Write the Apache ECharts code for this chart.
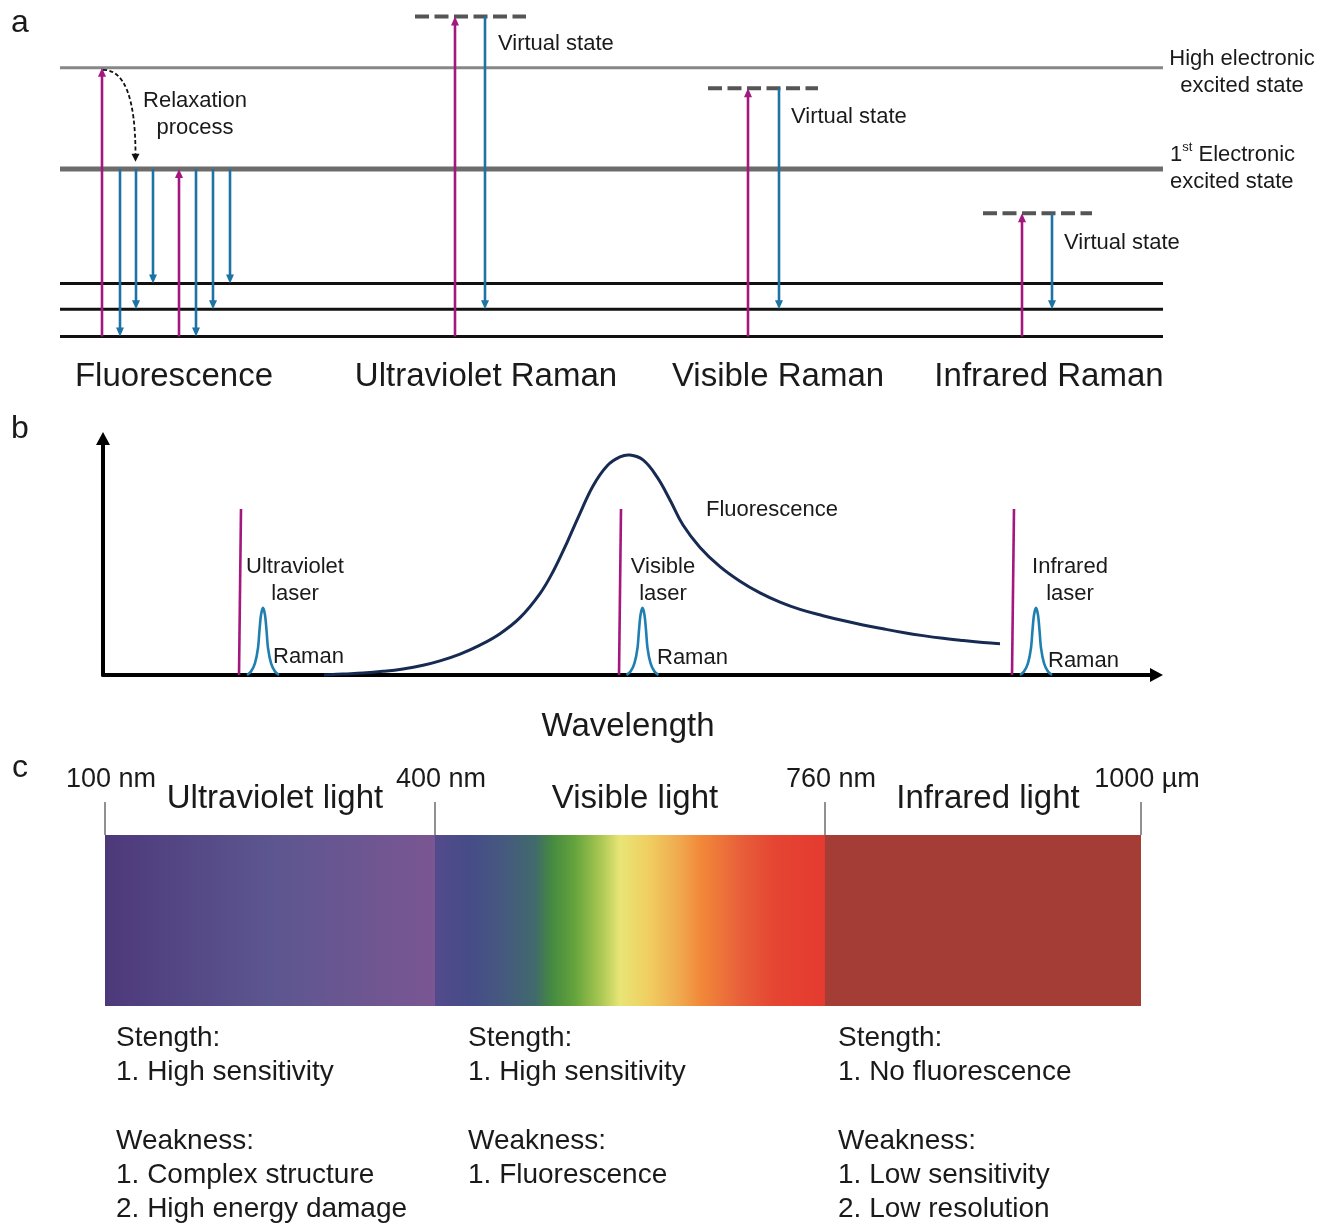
<!DOCTYPE html>
<html>
<head>
<meta charset="utf-8">
<title>Fluorescence and Raman excitation</title>
<script src="https://cdn.jsdelivr.net/npm/echarts@6/dist/echarts.min.js"></script>
<style>
  html, body { margin: 0; padding: 0; background: #ffffff; }
  #chart { width: 1330px; height: 1223px; }
</style>
</head>
<body>
<div id="chart"></div>
<script>
// ---------- a: energy-level diagram (energy in vibrational-quantum units) ----------
const groundLevels = [0, 1.02, 1.99];
const firstExcited = 6.28;
const highExcited = 10.08;
const levelSpan = [0, 110.3];
// virtual states: [xStart, xEnd, energy]
const virtualStates = [[35.5, 46.6, 12.0], [64.8, 75.8, 9.31], [92.3, 103.2, 4.62]];
// absorption (upward) transitions: [x, fromEnergy, toEnergy]
const excitations = [[4.2, 0, 10.08], [11.9, 0, 6.28], [39.5, 0, 12.0], [68.8, 0, 9.31], [96.2, 0, 4.62]];
// emission / scattering (downward) transitions: [x, fromEnergy, toEnergy]
const emissions = [
  [6.0, 6.28, 0], [7.6, 6.28, 1.02], [9.3, 6.28, 1.99],
  [13.6, 6.28, 0], [15.3, 6.28, 1.02], [17.0, 6.28, 1.99],
  [42.5, 12.0, 1.02], [71.9, 9.31, 1.02], [99.2, 4.62, 1.02]
];
// non-radiative relaxation: [xFrom, eFrom, xTo, eTo]
const relaxation = [[4.3, 10.0, 7.55, 6.55]];
const processNames = ['Fluorescence', 'Ultraviolet Raman', 'Visible Raman', 'Infrared Raman'];
const processCenters = [11.4, 42.6, 71.8, 98.9];

// ---------- b: emission spectrum (wavelength vs intensity, arbitrary units) ----------
const fluorescenceCurve = [
  [22.1, 0], [24.0, 0.4], [26.0, 0.8], [28.0, 1.5], [30.0, 2.5], [32.0, 4.0], [33.7, 5.8],
  [35.7, 8.6], [37.7, 12.3], [39.7, 17.0], [41.7, 23.6], [43.7, 33.5], [45.0, 42.5],
  [46.4, 54.5], [47.7, 66.5], [49.0, 77.8], [50.4, 86.0], [51.7, 89.7], [52.7, 90.5],
  [54.0, 88.5], [55.4, 81.5], [56.7, 72.0], [58.0, 61.7], [59.7, 52.5], [61.7, 44.6],
  [63.7, 38.6], [65.7, 33.8], [67.7, 30.0], [69.7, 27.0], [72.0, 24.4], [74.0, 22.4],
  [76.0, 20.6], [78.0, 19.0], [80.0, 17.5], [82.0, 16.2], [84.0, 15.1], [86.0, 14.2],
  [88.0, 13.4], [89.7, 12.9]
];
// laser lines: [xBottom, 0, xTop, intensity]
const laserLines = [[13.6, 0, 13.8, 68.3], [51.6, 0, 51.8, 68.3], [90.9, 0, 91.1, 68.3]];
const ramanUV = [
  [14.4, 0], [14.8, 1.4], [15.2, 4.9], [15.5, 11.1], [15.65, 18.5], [15.8, 24.7], [16.0, 27.6],
  [16.2, 24.7], [16.35, 18.5], [16.5, 11.1], [16.8, 4.9], [17.2, 1.4], [17.6, 0]
];
const ramanVisible = [
  [52.35, 0], [52.75, 1.4], [53.15, 4.9], [53.45, 11.1], [53.6, 18.5], [53.75, 24.7], [53.95, 27.6],
  [54.15, 24.7], [54.3, 18.5], [54.45, 11.1], [54.75, 4.9], [55.15, 1.4], [55.55, 0]
];
const ramanIR = [
  [91.7, 0], [92.1, 1.4], [92.5, 4.9], [92.8, 11.1], [92.95, 18.5], [93.1, 24.7], [93.3, 27.6],
  [93.5, 24.7], [93.65, 18.5], [93.8, 11.1], [94.1, 4.9], [94.5, 1.4], [94.9, 0]
];
const laserNames = ['Ultraviolet\nlaser', 'Visible\nlaser', 'Infrared\nlaser'];

// ---------- c: spectral bands ----------
const bandEdges = [0, 33.0, 72.0, 103.6];
const edgeLabels = ['100 nm', '400 nm', '760 nm', '1000 µm'];
const bandNames = ['Ultraviolet light', 'Visible light', 'Infrared light'];
const strengths = [['1. High sensitivity'], ['1. High sensitivity'], ['1. No fluorescence']];
const weaknesses = [
  ['1. Complex structure', '2. High energy damage'],
  ['1. Fluorescence'],
  ['1. Low sensitivity', '2. Low resolution']
];

// ---------- styles ----------
const FONT = "'Liberation Sans', Arial, Helvetica, sans-serif";
const INK = '#1a1a1a';
const MAGENTA = '#a3177f';
const BLUE = '#1d73a4';
const RAMAN_BLUE = '#1f7fb0';
const NAVY = '#172a52';

const bandGradients = [
  [[0, '#4d397a'], [0.5, '#5c5690'], [1, '#7a5692']],
  [[0, '#534a8c'], [0.09, '#464c88'], [0.18, '#455a7e'], [0.256, '#416a6c'], [0.30, '#458a40'],
   [0.36, '#66a43c'], [0.423, '#a8c652'], [0.474, '#e8e575'], [0.551, '#f0cd60'], [0.628, '#f0a84e'],
   [0.679, '#f28a3a'], [0.782, '#e8603a'], [0.87, '#e54532'], [1, '#e53a30']],
  [[0, '#a33d35'], [1, '#a33d35']]
];

// ---------- series helpers ----------
function segmentSeries(g, data, style, z) {
  return {
    type: 'custom', xAxisIndex: g, yAxisIndex: g, silent: true, data: data, z: z || 2,
    renderItem: function (params, api) {
      const a = api.coord([api.value(0), api.value(1)]);
      const b = api.coord([api.value(2), api.value(3)]);
      return {
        type: 'line',
        shape: { x1: a[0], y1: a[1], x2: b[0], y2: b[1] },
        style: Object.assign({ fill: null, lineCap: 'butt' }, style)
      };
    }
  };
}

function arrowSeries(g, data, color, width, headW, headL) {
  return {
    type: 'custom', xAxisIndex: g, yAxisIndex: g, silent: true, data: data, z: 4,
    renderItem: function (params, api) {
      const x = api.value(0);
      const a = api.coord([x, api.value(1)]);
      const b = api.coord([x, api.value(2)]);
      const dir = b[1] > a[1] ? 1 : -1;
      const baseY = b[1] - dir * headL;
      return {
        type: 'group',
        children: [
          { type: 'line', shape: { x1: a[0], y1: a[1], x2: b[0], y2: baseY + dir * 1 },
            style: { stroke: color, lineWidth: width, fill: null } },
          { type: 'polygon', shape: { points: [[b[0], b[1]], [b[0] - headW / 2, baseY], [b[0] + headW / 2, baseY]] },
            style: { fill: color } }
        ]
      };
    }
  };
}

function textSeries(g, items) {
  return {
    type: 'custom', xAxisIndex: g, yAxisIndex: g, silent: true, z: 10,
    data: items.map(function (t) { return t.at; }),
    renderItem: function (params, api) {
      const t = items[params.dataIndex];
      const p = api.coord([api.value(0), api.value(1)]);
      return {
        type: 'text', x: p[0], y: p[1],
        style: Object.assign({
          text: t.text, fill: INK, fontFamily: FONT, fontSize: 22,
          align: t.align || 'center', verticalAlign: t.vAlign || 'middle'
        }, t.style || {})
      };
    }
  };
}

// smooth spectral trace: one polyline through all points, mapped by the grid's axes
function curveSeries(data, color, width, smooth) {
  return {
    type: 'custom', xAxisIndex: 1, yAxisIndex: 1, silent: true, data: data, z: 3,
    renderItem: function (params, api) {
      if (params.dataIndex !== 0) return null;
      const pts = data.map(function (p) { return api.coord(p); });
      return {
        type: 'polyline',
        shape: { points: pts, smooth: smooth },
        style: { stroke: color, lineWidth: width, fill: null, lineJoin: 'round' }
      };
    }
  };
}

// ---------- assemble ----------
const series = [];

// a: levels
series.push(segmentSeries(0, groundLevels.map(function (e) { return [levelSpan[0], e, levelSpan[1], e]; }),
  { stroke: '#111111', lineWidth: 3 }));
series.push(segmentSeries(0, [[levelSpan[0], firstExcited, levelSpan[1], firstExcited]],
  { stroke: '#6c6c6c', lineWidth: 5 }));
series.push(segmentSeries(0, [[levelSpan[0], highExcited, levelSpan[1], highExcited]],
  { stroke: '#878787', lineWidth: 3 }));
series.push(segmentSeries(0, virtualStates.map(function (v) { return [v[0], v[2], v[1], v[2]]; }),
  { stroke: '#555555', lineWidth: 4, lineDash: [14, 5.5] }));
series.push(arrowSeries(0, excitations, MAGENTA, 2.6, 8, 9));
series.push(arrowSeries(0, emissions, BLUE, 2.6, 8, 9));

// a: relaxation (dashed curved arrow)
series.push({
  type: 'custom', xAxisIndex: 0, yAxisIndex: 0, silent: true, data: relaxation, z: 5,
  renderItem: function (params, api) {
    const a = api.coord([api.value(0), api.value(1)]);
    const b = api.coord([api.value(2), api.value(3)]);
    const headL = 8, headW = 8;
    return {
      type: 'group',
      children: [
        { type: 'bezierCurve',
          shape: { x1: a[0], y1: a[1], x2: b[0], y2: b[1] - headL + 1, cpx1: b[0], cpy1: a[1] },
          style: { stroke: '#111111', lineWidth: 1.8, lineDash: [4, 2.5], fill: null } },
        { type: 'polygon',
          shape: { points: [[b[0], b[1]], [b[0] - headW / 2, b[1] - headL], [b[0] + headW / 2, b[1] - headL]] },
          style: { fill: '#111111' } }
      ]
    };
  }
});

// a: text
const textA = [
  { at: [13.5, 8.31], text: 'Relaxation\nprocess', style: { lineHeight: 27 } },
  { at: [43.8, 10.96], text: 'Virtual state', align: 'left' },
  { at: [73.1, 8.22], text: 'Virtual state', align: 'left' },
  { at: [100.4, 3.5], text: 'Virtual state', align: 'left' },
  { at: [118.2, 9.92], text: 'High electronic\nexcited state', style: { lineHeight: 27 } },
  { at: [111.0, 6.32], text: '{n|1}{s|st}{n| Electronic}\n{n|excited state}', align: 'left',
    style: { rich: {
      n: { fontSize: 22, lineHeight: 27, fontFamily: FONT, fill: INK },
      s: { fontSize: 13, lineHeight: 16, verticalAlign: 'top', fontFamily: FONT, fill: INK }
    } } }
];
processNames.forEach(function (name, i) {
  textA.push({ at: [processCenters[i], -1.5], text: name, style: { fontSize: 33 } });
});
series.push(textSeries(0, textA));

// b: spectra
series.push(curveSeries(fluorescenceCurve, NAVY, 3, 0.4));
series.push(segmentSeries(1, laserLines, { stroke: MAGENTA, lineWidth: 2.6 }));
series.push(curveSeries(ramanUV, RAMAN_BLUE, 2.6, 0.3));
series.push(curveSeries(ramanVisible, RAMAN_BLUE, 2.6, 0.3));
series.push(curveSeries(ramanIR, RAMAN_BLUE, 2.6, 0.3));

const textB = [
  { at: [19.2, 39.1], text: laserNames[0], style: { lineHeight: 27 } },
  { at: [56.0, 39.1], text: laserNames[1], style: { lineHeight: 27 } },
  { at: [96.7, 39.1], text: laserNames[2], style: { lineHeight: 27 } },
  { at: [17.0, 7.4], text: 'Raman', align: 'left' },
  { at: [55.4, 7.0], text: 'Raman', align: 'left' },
  { at: [94.5, 5.8], text: 'Raman', align: 'left' },
  { at: [60.3, 67.9], text: 'Fluorescence', align: 'left' },
  { at: [52.5, -21.2], text: 'Wavelength', style: { fontSize: 33 } }
];
series.push(textSeries(1, textB));

// c: spectral bands
series.push({
  type: 'custom', xAxisIndex: 2, yAxisIndex: 2, silent: true,
  data: bandNames.map(function (n, i) { return [bandEdges[i], bandEdges[i + 1]]; }),
  renderItem: function (params, api) {
    const i = params.dataIndex;
    const p0 = api.coord([api.value(0), 1]);
    const p1 = api.coord([api.value(1), 0]);
    const stops = bandGradients[i].map(function (s) { return { offset: s[0], color: s[1] }; });
    return {
      type: 'rect',
      shape: { x: p0[0], y: p0[1], width: p1[0] - p0[0], height: p1[1] - p0[1] },
      style: { fill: new echarts.graphic.LinearGradient(0, 0, 1, 0, stops) }
    };
  }
});
// c: boundary ticks above the bands
series.push(segmentSeries(2, bandEdges.map(function (e) { return [e, 1, e, 1.193]; }),
  { stroke: '#6d6d6d', lineWidth: 1.5 }, 3));

const textC = [];
bandNames.forEach(function (name, i) {
  textC.push({ at: [(bandEdges[i] + bandEdges[i + 1]) / 2 + 0.5, 1.21], text: name, style: { fontSize: 33 } });
});
const columnX = [1.1, 36.3, 73.3];
bandNames.forEach(function (name, i) {
  const lines = ['Stength:'].concat(strengths[i], [''], ['Weakness:'], weaknesses[i]);
  textC.push({ at: [columnX[i], -0.088], text: lines.join('\n'), align: 'left', vAlign: 'top',
    style: { fontSize: 28, lineHeight: 34.3 } });
});
series.push(textSeries(2, textC));

const hiddenAxis = { show: false };

const option = {
  animation: false,
  backgroundColor: '#ffffff',
  grid: [
    { left: 60, top: 16.5, width: 1103, height: 320 },
    { left: 103, top: 438.5, width: 1053.5, height: 236.5 },
    { left: 105, top: 835, width: 1036, height: 171 }
  ],
  xAxis: [
    Object.assign({ gridIndex: 0, type: 'value', min: 0, max: 110.3 }, hiddenAxis),
    {
      gridIndex: 1, type: 'value', min: 0, max: 105.35,
      axisLine: { show: true, onZero: false, symbol: ['none', 'triangle'], symbolSize: [14, 13],
        lineStyle: { color: '#000000', width: 4 } },
      axisTick: { show: false }, axisLabel: { show: false }, splitLine: { show: false }
    },
    {
      gridIndex: 2, type: 'value', min: 0, max: 103.6, position: 'top',
      axisLine: { show: false },
      axisTick: { show: false },
      axisLabel: {
        show: true, customValues: bandEdges, margin: 42,
        formatter: function (v) {
          const i = bandEdges.findIndex(function (e) { return Math.abs(e - v) < 1e-6; });
          return i >= 0 ? edgeLabels[i] : '';
        },
        fontSize: 27, fontFamily: FONT, color: INK, padding: [0, 0, 0, 12]
      },
      splitLine: { show: false }
    }
  ],
  yAxis: [
    Object.assign({ gridIndex: 0, type: 'value', min: 0, max: 12 }, hiddenAxis),
    {
      gridIndex: 1, type: 'value', min: 0, max: 97.3,
      axisLine: { show: true, onZero: false, symbol: ['none', 'triangle'], symbolSize: [14, 13],
        lineStyle: { color: '#000000', width: 4 } },
      axisTick: { show: false }, axisLabel: { show: false }, splitLine: { show: false }
    },
    Object.assign({ gridIndex: 2, type: 'value', min: 0, max: 1 }, hiddenAxis)
  ],
  graphic: [
    { type: 'text', left: 11, top: 7, style: { text: 'a', fontSize: 32, fontFamily: FONT, fill: INK } },
    { type: 'text', left: 11, top: 413, style: { text: 'b', fontSize: 32, fontFamily: FONT, fill: INK } },
    { type: 'text', left: 12, top: 752, style: { text: 'c', fontSize: 32, fontFamily: FONT, fill: INK } }
  ],
  series: series
};

const chart = echarts.init(document.getElementById('chart'), null, { renderer: 'canvas' });
chart.setOption(option);
</script>
</body>
</html>
